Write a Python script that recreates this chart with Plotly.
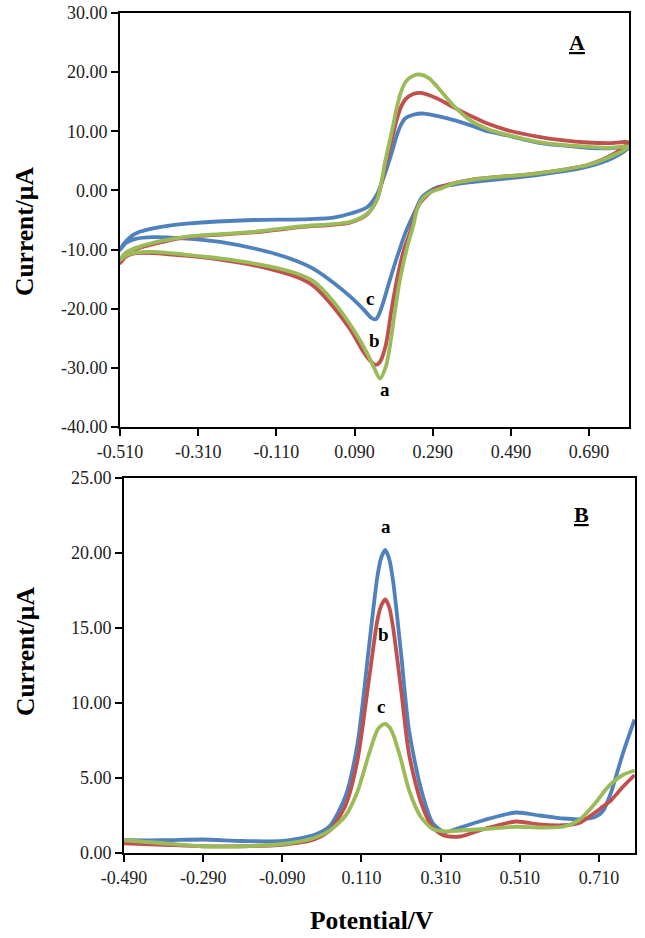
import plotly.graph_objects as go

BLUE = "#4F81BD"
RED = "#C0504D"
GREEN = "#9BBB59"
FONT = "Liberation Serif, Times New Roman, serif"

# ---------------- Panel A : cyclic voltammograms (E / V, I / uA) ----------------
cv_c_x = [-0.510, -0.500, -0.484, -0.460, -0.425, -0.380, -0.339, -0.168, -0.048, 0.036, 0.080, 0.123,
          0.148, 0.165, 0.187, 0.198, 0.208, 0.220, 0.240, 0.268, 0.300, 0.344, 0.387, 0.430, 0.480,
          0.558, 0.620, 0.686, 0.740, 0.792,
          0.754, 0.686, 0.558, 0.387, 0.345, 0.300, 0.263, 0.245, 0.223, 0.200, 0.180, 0.163, 0.150,
          0.144, 0.132, 0.114, 0.080, 0.036, -0.014, -0.060, -0.125, -0.254, -0.350, -0.425, -0.470,
          -0.495, -0.510]
cv_c_y = [-10.1, -9.0, -7.9, -7.0, -6.4, -5.9, -5.6, -5.0, -4.9, -4.6, -3.9, -2.8,
          -0.6, 2.3, 6.8, 9.3, 11.0, 12.2, 12.8, 13.0, 12.6, 11.9, 11.0, 10.0, 9.3,
          8.1, 7.6, 7.2, 7.1, 7.3,
          5.6, 4.0, 2.6, 1.4, 1.0, 0.5, -1.1, -3.5, -6.7, -11.0, -15.2, -19.0, -21.3,
          -21.8, -21.5, -20.2, -18.0, -15.6, -13.3, -11.9, -10.5, -8.7, -8.1, -7.9, -8.2,
          -8.9, -10.1]

cv_b_x = [-0.510, -0.495, -0.459, -0.400, -0.339, -0.168, -0.048, 0.080, 0.123, 0.150, 0.169, 0.187,
          0.198, 0.208, 0.220, 0.240, 0.259, 0.300, 0.345, 0.387, 0.430, 0.480, 0.558, 0.620, 0.686,
          0.740, 0.792,
          0.754, 0.686, 0.558, 0.387, 0.330, 0.293, 0.270, 0.251, 0.234, 0.216, 0.198, 0.185, 0.169,
          0.155, 0.143, 0.130, 0.110, 0.080, 0.036, -0.014, -0.048, -0.125, -0.254, -0.425, -0.470,
          -0.495, -0.510]
cv_b_y = [-12.3, -10.8, -9.7, -8.7, -7.9, -7.1, -6.2, -5.4, -4.0, -1.0, 4.3, 9.1,
          12.0, 14.0, 15.4, 16.3, 16.5, 15.6, 14.0, 12.6, 11.3, 10.2, 9.1, 8.5, 8.1,
          8.0, 8.1,
          6.2, 4.3, 2.9, 1.8, 1.0, 0.1, -1.2, -2.8, -6.7, -10.1, -15.2, -20.0, -26.4,
          -29.0, -29.5, -28.8, -27.0, -23.6, -19.7, -16.2, -14.9, -13.3, -11.7, -10.6, -10.6,
          -11.2, -12.3]

cv_a_x = [-0.510, -0.495, -0.459, -0.400, -0.339, -0.168, -0.048, 0.080, 0.123, 0.148, 0.169, 0.187,
          0.198, 0.208, 0.221, 0.240, 0.257, 0.280, 0.302, 0.345, 0.387, 0.430, 0.480, 0.558, 0.620,
          0.686, 0.740, 0.792,
          0.754, 0.686, 0.558, 0.413, 0.345, 0.310, 0.285, 0.265, 0.250, 0.240, 0.225, 0.205, 0.192,
          0.180, 0.170, 0.155, 0.140, 0.122, 0.088, 0.036, -0.014, -0.048, -0.125, -0.254, -0.425,
          -0.470, -0.495, -0.510]
cv_a_y = [-11.8, -10.5, -9.5, -8.5, -7.8, -7.0, -6.1, -5.3, -3.9, -1.5, 5.1, 10.5,
          14.0, 16.5, 18.4, 19.4, 19.6, 19.0, 17.5, 14.2, 11.8, 10.4, 9.4, 8.2, 7.7,
          7.4, 7.2, 7.4,
          6.0, 4.3, 2.9, 2.0, 1.2, 0.3, -0.3, -1.3, -3.2, -6.0, -9.5, -15.5, -21.0,
          -26.5, -29.8, -31.8, -30.0, -27.5, -23.6, -18.8, -15.4, -14.3, -12.9, -11.5, -10.4,
          -10.5, -11.0, -11.8]

# ---------------- Panel B : differential pulse voltammograms ----------------
dp_x = [-0.49, -0.39, -0.29, -0.19, -0.09, -0.01, 0.03, 0.07, 0.10, 0.13, 0.15, 0.16, 0.17,
        0.18, 0.19, 0.21, 0.23, 0.26, 0.29, 0.32, 0.36, 0.42, 0.50, 0.56, 0.62, 0.66, 0.70,
        0.72, 0.74, 0.77, 0.80]
dp_a_y = [0.85, 0.85, 0.90, 0.80, 0.80, 1.2, 1.8, 3.8, 7.3, 14.0, 18.4, 19.7, 20.2,
          19.6, 18.1, 13.3, 8.2, 4.3, 2.0, 1.4, 1.7, 2.2, 2.7, 2.5, 2.3, 2.25, 2.4,
          2.8, 4.0, 6.6, 8.9]
dp_b_y = [0.65, 0.55, 0.45, 0.45, 0.55, 0.9, 1.5, 3.2, 6.2, 11.8, 15.5, 16.5, 16.9,
          16.4, 15.0, 10.9, 6.6, 3.4, 1.7, 1.15, 1.1, 1.6, 2.1, 1.9, 1.85, 2.0, 2.7,
          3.1, 3.5, 4.4, 5.2]
dp_c_y = [0.85, 0.65, 0.45, 0.45, 0.6, 1.0, 1.5, 2.5, 4.1, 6.7, 8.2, 8.5, 8.6,
          8.4, 7.9, 6.2, 4.2, 2.4, 1.6, 1.45, 1.5, 1.6, 1.75, 1.7, 1.75, 2.2, 3.3,
          4.0, 4.6, 5.2, 5.5]

# ticks
a_xticks = [-0.510, -0.310, -0.110, 0.090, 0.290, 0.490, 0.690]
a_yticks = [30, 20, 10, 0, -10, -20, -30, -40]
b_xticks = [-0.490, -0.290, -0.090, 0.110, 0.310, 0.510, 0.710]
b_yticks = [0, 5, 10, 15, 20, 25]

# curve labels
a_labels = [("a", 0.167, -33.7), ("b", 0.141, -25.3), ("c", 0.129, -18.2)]
b_labels = [("a", 0.172, 21.8), ("b", 0.166, 14.6), ("c", 0.160, 9.8)]

W, H = 645, 938
fig = go.Figure()

def line(x, y, color, xa, ya, sm):
    fig.add_trace(go.Scatter(x=x, y=y, mode="lines", xaxis=xa, yaxis=ya,
                             line=dict(color=color, width=3.8, shape="spline", smoothing=sm),
                             showlegend=False, hoverinfo="skip"))

line(cv_c_x, cv_c_y, BLUE, "x", "y", 0.8)
line(cv_b_x, cv_b_y, RED, "x", "y", 0.8)
line(cv_a_x, cv_a_y, GREEN, "x", "y", 0.8)
line(dp_x, dp_a_y, BLUE, "x2", "y2", 0.7)
line(dp_x, dp_b_y, RED, "x2", "y2", 0.7)
line(dp_x, dp_c_y, GREEN, "x2", "y2", 0.7)

tickfont = dict(family=FONT, size=18, color="#222")

def fmt(v, n):
    return f"{v:.{n}f}"

axis_common = dict(showline=True, linecolor="black", linewidth=2, mirror=True,
                   ticks="outside", ticklen=7, tickwidth=1.5, tickcolor="black",
                   showgrid=False, zeroline=False, tickfont=tickfont, automargin=False)

fig.update_layout(
    width=W, height=H, margin=dict(l=0, r=0, t=0, b=0, autoexpand=False),
    paper_bgcolor="white", plot_bgcolor="white", showlegend=False,
    xaxis=dict(domain=[120 / W, 629 / W], anchor="y", range=[-0.510, 0.792],
               tickvals=a_xticks, ticktext=[fmt(v, 3) for v in a_xticks], **axis_common),
    yaxis=dict(domain=[1 - 427 / H, 1 - 13 / H], anchor="x", range=[-40, 30],
               tickvals=a_yticks, ticktext=[fmt(v, 2) for v in a_yticks], **axis_common),
    xaxis2=dict(domain=[124 / W, 635 / W], anchor="y2", range=[-0.490, 0.801],
                tickvals=b_xticks, ticktext=[fmt(v, 3) for v in b_xticks], **axis_common),
    yaxis2=dict(domain=[1 - 853 / H, 1 - 478 / H], anchor="x2", range=[0, 25],
                tickvals=b_yticks, ticktext=[fmt(v, 2) for v in b_yticks], **axis_common),
)

ann = []
C = dict(xanchor="center", yanchor="middle", showarrow=False)
for t, x, y in a_labels:
    ann.append(dict(text=f"<b>{t}</b>", x=x, y=y, xref="x", yref="y",
                    font=dict(family=FONT, size=19, color="black"), **C))
for t, x, y in b_labels:
    ann.append(dict(text=f"<b>{t}</b>", x=x, y=y, xref="x2", yref="y2",
                    font=dict(family=FONT, size=19, color="black"), **C))
ann.append(dict(text="<b><u>A</u></b>", x=577 / W, y=1 - 42 / H, xref="paper", yref="paper",
                font=dict(family=FONT, size=22, color="black"), **C))
ann.append(dict(text="<b><u>B</u></b>", x=581 / W, y=1 - 514 / H, xref="paper", yref="paper",
                font=dict(family=FONT, size=22, color="black"), **C))
ann.append(dict(text="<b>Current/µA</b>", x=25 / W, y=1 - 231 / H, xref="paper", yref="paper",
                textangle=-90, font=dict(family=FONT, size=25.5, color="black"), **C))
ann.append(dict(text="<b>Current/µA</b>", x=25 / W, y=1 - 651 / H, xref="paper", yref="paper",
                textangle=-90, font=dict(family=FONT, size=25.5, color="black"), **C))
ann.append(dict(text="<b>Potential/V</b>", x=372 / W, y=1 - 920 / H, xref="paper", yref="paper",
                font=dict(family=FONT, size=25.5, color="black"), **C))
fig.update_layout(annotations=ann)

fig.write_html("out.html")
